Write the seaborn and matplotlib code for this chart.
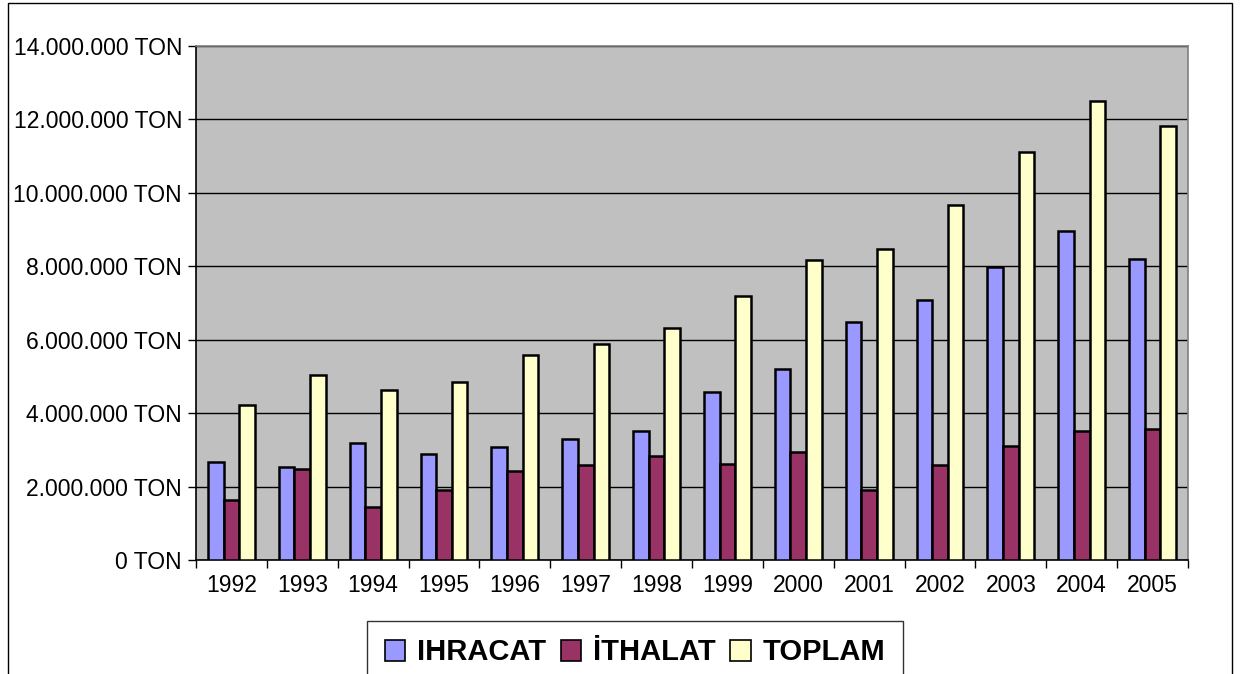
import matplotlib
matplotlib.use("Agg")
import matplotlib.pyplot as plt
import seaborn as sns
import pandas as pd
import numpy as np
from matplotlib.patches import Rectangle, Patch

years = ["1992", "1993", "1994", "1995", "1996", "1997", "1998",
         "1999", "2000", "2001", "2002", "2003", "2004", "2005"]
ihracat = [2.67, 2.54, 3.19, 2.90, 3.07, 3.30, 3.52, 4.57, 5.20, 6.49, 7.07, 7.99, 8.96, 8.21]
ithalat = [1.63, 2.49, 1.45, 1.90, 2.43, 2.60, 2.82, 2.61, 2.95, 1.91, 2.60, 3.11, 3.52, 3.57]
toplam = [4.22, 5.04, 4.62, 4.86, 5.58, 5.89, 6.31, 7.18, 8.17, 8.47, 9.67, 11.12, 12.51, 11.81]
series_names = ["IHRACAT", "İTHALAT", "TOPLAM"]
ytick_values = [0, 2e6, 4e6, 6e6, 8e6, 10e6, 12e6, 14e6]
ytick_labels = ["0 TON", "2.000.000 TON", "4.000.000 TON", "6.000.000 TON",
                "8.000.000 TON", "10.000.000 TON", "12.000.000 TON", "14.000.000 TON"]
colors = ["#9999FF", "#993366", "#FFFFCC"]

rows = []
for name, vals in zip(series_names, [ihracat, ithalat, toplam]):
    for y, v in zip(years, vals):
        rows.append({"Yil": y, "Seri": name, "Deger": v * 1e6})
df = pd.DataFrame(rows)

sns.set_theme(style="white")
plt.rcParams["font.family"] = ["Liberation Sans", "DejaVu Sans"]
plt.rcParams["text.color"] = "black"
plt.rcParams["xtick.color"] = "black"
plt.rcParams["ytick.color"] = "black"
plt.rcParams["axes.labelcolor"] = "black"

fig = plt.figure(figsize=(12.4, 6.74), dpi=100)
ax = fig.add_axes([196 / 1240, 1 - 560 / 674, (1188 - 196) / 1240, (560 - 46) / 674])
ax.set_facecolor("#C0C0C0")

sns.barplot(data=df, x="Yil", y="Deger", hue="Seri", order=years, hue_order=series_names,
            palette=colors, width=0.66, gap=0, edgecolor="black", linewidth=1.8,
            saturation=1, ax=ax, legend=False, zorder=3)

ax.set_xlim(-0.5, len(years) - 0.5)
ax.set_ylim(0, 14e6)
ax.set_yticks(ytick_values)
ax.set_yticklabels(ytick_labels, fontsize=16.5, color="black")
ax.yaxis.grid(True, color="black", linewidth=1.0, zorder=1)
ax.set_axisbelow(True)
ax.set_xlabel("")
ax.set_ylabel("")
ax.tick_params(axis="x", which="major", length=0, labelsize=16.5, labelcolor="black", pad=10)
ax.set_xticks(np.arange(-0.5, len(years) + 0.5, 1), minor=True)
ax.tick_params(axis="x", which="minor", length=6, width=1, color="black", direction="out", bottom=True)
ax.tick_params(axis="y", length=6, width=1, color="black", direction="out", left=True, pad=4)
for s in ["left", "bottom"]:
    ax.spines[s].set_color("black")
    ax.spines[s].set_linewidth(1.2)
for s in ["top", "right"]:
    ax.spines[s].set_color("#808080")
    ax.spines[s].set_linewidth(1.2)

handles = [Patch(facecolor=c, edgecolor="black", linewidth=1.2) for c in colors]
leg = fig.legend(handles, series_names, loc="upper center",
                 bbox_to_anchor=(635 / 1240, 1 - 621 / 674),
                 ncol=3, frameon=True, fancybox=False, edgecolor="black",
                 prop={"weight": "bold", "size": 21}, handlelength=0.7, handleheight=0.7,
                 handletextpad=0.4, columnspacing=0.5, borderpad=0.6, borderaxespad=0)
leg.get_frame().set_linewidth(1.0)
for t in leg.get_texts():
    t.set_color("black")

fig.patches.append(Rectangle((8 / 1240, -0.05), (1232 - 8) / 1240, 1.05 - 3 / 674,
                             transform=fig.transFigure, fill=False, edgecolor="black",
                             linewidth=1.0))

fig.savefig("out.png", dpi=100, facecolor="white")
